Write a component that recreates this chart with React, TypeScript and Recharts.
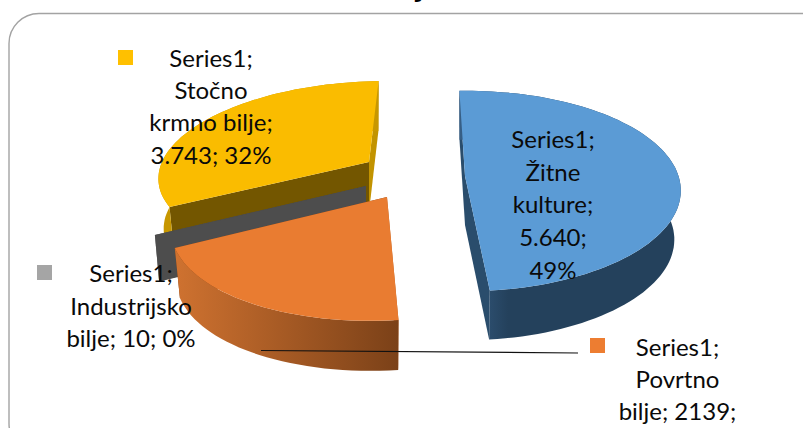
import React from 'react';
import { PieChart, Pie } from 'recharts';

const categories = ['Stočno krmno bilje', 'Industrijsko bilje', 'Povrtno bilje', 'Žitne kulture'];
const values = [3743, 10, 2139, 5640];
const labelLines = [
  ['Series1;', 'Stočno', 'krmno bilje;', '3.743; 32%'],
  ['Series1;', 'Industrijsko', 'bilje; 10; 0%'],
  ['Series1;', 'Povrtno', 'bilje; 2139;'],
  ['Series1;', 'Žitne', 'kulture;', '5.640;', '49%'],
];
const data = categories.map((name, i) => ({ name, value: values[i] }));

type Geo = { cx: number; cy: number; rx: number; ry: number; k: number; s: number; d: number; sc: number };
const geos: Geo[] = [
  { cx: 369, cy: 162, rx: 207, ry: 89, k: 0.1, s: -0.2, d: 50, sc: 0.975 },
  { cx: 366, cy: 186, rx: 222, ry: 97, k: 0.088, s: -0.165, d: 46, sc: 0.98 },
  { cx: 387, cy: 197, rx: 204.5, ry: 91, k: 0.265, s: -0.14, d: 50, sc: 0.976 },
  { cx: 465, cy: 176, rx: 213.5, ry: 98, k: 0.15, s: -0.01, d: 49, sc: 0.97 },
];
const skins = [
  { top: '#fabc00', startWall: '#c29300', endWall: '#735600', rim: ['#c79700', '#c79700'], stop: 0.5 },
  { top: '#4d4d4d', startWall: '#4d4d4d', endWall: '#4d4d4d', rim: ['#4d4d4d', '#4d4d4d'], stop: 0.5 },
  { top: '#e97c31', startWall: '#7b4118', endWall: '#b8652a', rim: ['#cf7230', '#7b4118'], stop: 1 },
  { top: '#5b9bd5', startWall: '#2a4d6c', endWall: '#2a4d6c', rim: ['#375f86', '#24415c'], stop: 0.22 },
];
const labelPlace = [
  { x: 211, y: 67, step: 32.2, key: [118, 50], keyFill: '#ffc000' },
  { x: 131, y: 282, step: 32.5, key: [37, 265], keyFill: '#a5a5a5' },
  { x: 677.5, y: 356, step: 32, key: [590, 338], keyFill: '#ed7d31' },
  { x: 553, y: 148, step: 32.7, key: null as number[] | null, keyFill: '' },
];

const proj = (a: number, g: Geo) => {
  const t = (a * Math.PI) / 180;
  const den = 1 + g.k * Math.sin(t);
  const dy = (-g.ry * Math.sin(t)) / den;
  const dx = (g.rx * Math.cos(t)) / den + g.s * dy;
  return [g.cx + dx, g.cy + dy];
};
const toPath = (pts: number[][]) =>
  'M' + pts.map((p) => `${p[0].toFixed(1)},${p[1].toFixed(1)}`).join('L') + 'Z';

const SliceShape = (props: any) => {
  const i = categories.indexOf(props.name ?? props.payload?.name);
  const g = geos[i];
  const c = skins[i];
  const a0 = props.startAngle;
  const a1 = props.endAngle;
  const arc: number[][] = [];
  const n = Math.max(1, Math.ceil(Math.abs(a1 - a0) / 2));
  for (let j = 0; j <= n; j++) arc.push(proj(a0 + ((a1 - a0) * j) / n, g));
  const lower = arc.map((p) => [g.cx + (p[0] - g.cx) * g.sc, p[1] + g.d]);
  const apex = [g.cx, g.cy];
  const apexLow = [g.cx, g.cy + g.d];
  const gid = `rim${i}`;
  return (
    <g>
      <defs>
        <linearGradient id={gid} x1="0" y1="0" x2="1" y2="0">
          <stop offset="0" stopColor={c.rim[0]} />
          <stop offset={c.stop} stopColor={c.rim[1]} />
        </linearGradient>
      </defs>
      <path d={toPath([apex, arc[0], lower[0], apexLow])} fill={c.startWall} />
      <path d={toPath([apex, arc[n], lower[n], apexLow])} fill={c.endWall} />
      <path d={toPath([...arc, ...lower.slice().reverse()])} fill={`url(#${gid})`} />
      <path d={toPath([apex, ...arc])} fill={c.top} />
    </g>
  );
};

const renderLabel = (props: any) => {
  const i = categories.indexOf(props.name);
  const p = labelPlace[i];
  return (
    <g key={i}>
      {i === 2 && <line x1={261} y1={350.5} x2={578} y2={353} stroke="#111" strokeWidth={1.2} />}
      {p.key && <rect x={p.key[0]} y={p.key[1]} width={15} height={15} fill={p.keyFill} />}
      <text x={p.x} y={p.y} textAnchor="middle" fontFamily="Lato" fontSize={24} fill="#0a0a0a">
        {labelLines[i].map((line, j) => (
          <tspan key={j} x={p.x} y={p.y + p.step * j}>
            {line}
          </tspan>
        ))}
      </text>
    </g>
  );
};

export default function App() {
  return (
    <div style={{ position: 'absolute', left: 0, top: 0, width: 803, height: 428, overflow: 'hidden', background: '#fff' }}>
      <svg width={803} height={428} style={{ position: 'absolute', left: 0, top: 0 }}>
        <rect x={9} y={13.5} width={830} height={440} rx={30} ry={30} fill="none" stroke="#a3a3a3" strokeWidth={1.4} />
        <text x={420} y={-3} textAnchor="middle" fontFamily="Lato" fontWeight={700} fontSize={32} fill="#000">j</text>
      </svg>
      <div style={{ position: 'absolute', left: 0, top: 0 }}>
        <PieChart width={803} height={428} margin={{ top: 0, right: 0, bottom: 0, left: 0 }}>
          <Pie
            data={data}
            dataKey="value"
            nameKey="name"
            cx={400}
            cy={214}
            outerRadius={200}
            startAngle={92}
            endAngle={452}
            stroke="none"
            shape={SliceShape}
            label={renderLabel}
            labelLine={false}
            isAnimationActive={false}
          />
        </PieChart>
      </div>
    </div>
  );
}
